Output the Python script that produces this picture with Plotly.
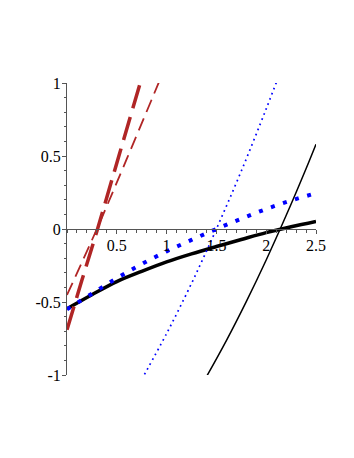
import plotly.graph_objects as go

# Thick black solid curve
black_thick_x = [0.0, 0.25, 0.5, 0.75, 1.0, 1.25, 1.5, 1.75, 2.0, 2.25, 2.5]
black_thick_y = [-0.546, -0.45, -0.36, -0.29, -0.225, -0.17, -0.12, -0.072, -0.025, 0.015, 0.052]

# Thin black solid curve
black_thin_x = [1.4, 1.6, 1.8, 2.0, 2.2, 2.4, 2.5]
black_thin_y = [-1.012, -0.764, -0.497, -0.212, 0.092, 0.413, 0.581]

# Thick blue dotted curve
blue_thick_x = [0.0, 0.25, 0.5, 0.75, 1.0, 1.25, 1.5, 1.75, 2.0, 2.25, 2.5]
blue_thick_y = [-0.55, -0.443, -0.337, -0.24, -0.153, -0.075, 0.0, 0.07, 0.137, 0.195, 0.245]

# Thin blue dotted curve
blue_thin_x = [0.75, 1.0, 1.25, 1.5, 1.75, 2.0, 2.15]
blue_thin_y = [-1.03, -0.716, -0.373, 0.0, 0.397, 0.823, 1.09]

# Thick red long-dash curve
red_thick_x = [0.0, 0.15, 0.3, 0.45, 0.6, 0.75, 0.78]
red_thick_y = [-0.69, -0.35, -0.015, 0.335, 0.685, 1.035, 1.105]

# Thin red dashed curve
red_thin_x = [0.0, 0.3, 0.6, 0.95]
red_thin_y = [-0.452, 0.0, 0.48, 1.05]

x_ticks = [0.5, 1, 1.5, 2, 2.5]
x_tick_labels = ["0.5", "1", "1.5", "2", "2.5"]
y_ticks = [-1, -0.5, 0, 0.5, 1]
y_tick_labels = ["-1", "-0.5", "0", "0.5", "1"]

RED = "#B02525"
BLUE = "#0000FF"

fig = go.Figure()
fig.add_trace(go.Scatter(x=black_thin_x, y=black_thin_y, mode="lines",
                         line=dict(color="black", width=1.5, shape="spline")))
fig.add_trace(go.Scatter(x=black_thick_x, y=black_thick_y, mode="lines",
                         line=dict(color="black", width=3.5, shape="spline")))
fig.add_trace(go.Scatter(x=blue_thin_x, y=blue_thin_y, mode="lines",
                         line=dict(color=BLUE, width=1.7, shape="spline", dash="1.7px,3.8px")))
fig.add_trace(go.Scatter(x=blue_thick_x, y=blue_thick_y, mode="lines",
                         line=dict(color=BLUE, width=4, shape="spline", dash="4px,8.7px")))
fig.add_trace(go.Scatter(x=red_thin_x, y=red_thin_y, mode="lines",
                         line=dict(color=RED, width=1.8, shape="spline", dash="13px,7px")))
fig.add_trace(go.Scatter(x=red_thick_x, y=red_thick_y, mode="lines",
                         line=dict(color=RED, width=3.5, shape="spline", dash="24px,9px")))

axis_color = "#555555"
tick_font = dict(family="Liberation Serif, Times New Roman, serif", size=16, color="black")

fig.update_layout(
    width=346, height=450,
    margin=dict(l=59, r=38, t=75, b=83),
    paper_bgcolor="white", plot_bgcolor="white",
    showlegend=False,
    xaxis=dict(range=[0, 2.5], anchor="free", position=0.5,
               showgrid=False, zeroline=False,
               showline=True, linecolor=axis_color, linewidth=1,
               tickmode="array", tickvals=x_ticks, ticktext=x_tick_labels,
               ticks="outside", ticklen=4, tickcolor=axis_color, tickwidth=1,
               ticklabelstandoff=-2,
               minor=dict(dtick=0.1, ticks="outside", ticklen=2.5, tickcolor=axis_color),
               tickfont=tick_font),
    yaxis=dict(range=[-1, 1],
               showgrid=False, zeroline=False,
               showline=True, linecolor=axis_color, linewidth=1,
               tickmode="array", tickvals=y_ticks, ticktext=y_tick_labels,
               ticks="outside", ticklen=4, tickcolor=axis_color, tickwidth=1,
               ticklabelstandoff=-2,
               minor=dict(dtick=0.1, ticks="outside", ticklen=2.5, tickcolor=axis_color),
               tickfont=tick_font),
)

fig.write_html("out.html")
